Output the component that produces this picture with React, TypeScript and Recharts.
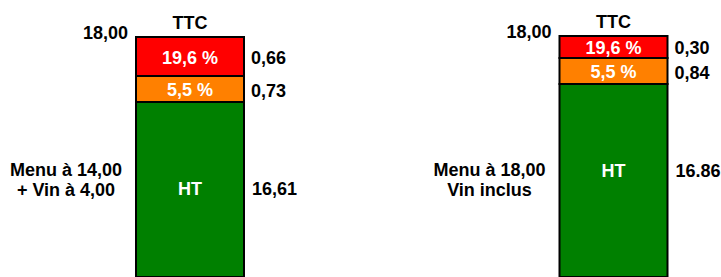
import { BarChart, Bar, XAxis, YAxis, LabelList } from 'recharts'

// the bars in the picture are not drawn to scale, so the segment heights
// below are the drawn heights and the printed amounts are kept apart
const categories = ['Menu à 14,00|+ Vin à 4,00', 'Menu à 18,00|Vin inclus']
const htDrawn = [175, 193]
const tva55Drawn = [26, 26]
const tva196Drawn = [39, 22]

const htValues = ['16,61', '16.86']
const tva55Values = ['0,73', '0,84']
const tva196Values = ['0,66', '0,30']
const ttcValues = ['18,00', '18,00']

const htName = 'HT'
const tva55Name = '5,5 %'
const tva196Name = '19,6 %'
const ttcName = 'TTC'

const data = categories.map((name, i) => ({
  name,
  ht: htDrawn[i],
  tva55: tva55Drawn[i],
  tva196: tva196Drawn[i],
}))

const FONT = '"Liberation Sans", Arial, sans-serif'
const FS = 18

type LP = { x?: number | string; y?: number | string; width?: number | string; height?: number | string; index?: number }

const num = (v: number | string | undefined) => Number(v ?? 0)

function sideLabel(values: string[], inner: string, dy = 0) {
  return (p: LP) => {
    const x = num(p.x), y = num(p.y), w = num(p.width), h = num(p.height)
    const i = p.index ?? 0
    return (
      <g fontFamily={FONT} fontWeight="bold" fontSize={FS}>
        <text x={x + w / 2} y={y + h / 2 + 1} textAnchor="middle" dominantBaseline="central" fill="#fff">
          {inner}
        </text>
        <text x={x + w + 7} y={y + h / 2 + dy} textAnchor="start" dominantBaseline="central" fill="#000">
          {values[i]}
        </text>
      </g>
    )
  }
}

function topLabel(p: LP) {
  const x = num(p.x), y = num(p.y), w = num(p.width), h = num(p.height)
  const i = p.index ?? 0
  return (
    <g fontFamily={FONT} fontWeight="bold" fontSize={FS}>
      <text x={x + w / 2} y={y + h / 2 + 1} textAnchor="middle" dominantBaseline="central" fill="#fff">
        {tva196Name}
      </text>
      <text x={x + w + 7} y={y + h / 2 + 1} textAnchor="start" dominantBaseline="central" fill="#000">
        {tva196Values[i]}
      </text>
      <text x={x - 8} y={y - 4} textAnchor="end" dominantBaseline="central" fill="#000">
        {ttcValues[i]}
      </text>
      <text x={x + w / 2} y={y - 14} textAnchor="middle" dominantBaseline="central" fill="#000">
        {ttcName}
      </text>
    </g>
  )
}

function htLabel(p: LP) {
  const x = num(p.x), y = num(p.y), w = num(p.width), h = num(p.height)
  const i = p.index ?? 0
  const bottom = y + h
  const lines = categories[i].split('|')
  return (
    <g fontFamily={FONT} fontWeight="bold" fontSize={FS}>
      <text x={x + w / 2} y={y + 87} textAnchor="middle" dominantBaseline="central" fill="#fff">
        {htName}
      </text>
      <text x={x + w + 8} y={y + 87} textAnchor="start" dominantBaseline="central" fill="#000">
        {htValues[i]}
      </text>
      {lines.map((l, k) => (
        <text key={k} x={x - 70} y={bottom - 107 + k * 20} textAnchor="middle" dominantBaseline="central" fill="#000">
          {l}
        </text>
      ))}
    </g>
  )
}

export default function App() {
  return (
    <div style={{ width: 721, height: 277, overflow: 'hidden', position: 'relative', background: '#fff' }}>
      <style>{'html,body{margin:0;padding:0}'}</style>
      <div style={{ position: 'absolute', left: -22, top: 0 }}>
        <BarChart width={847} height={277} data={data} margin={{ top: 0, right: 0, left: 0, bottom: 0 }}>
          <XAxis dataKey="name" hide />
          <YAxis hide domain={[0, 277]} allowDataOverflow />
          <Bar dataKey="ht" stackId="a" fill="#008000" stroke="#000" strokeWidth={2} barSize={108} isAnimationActive={false}>
            <LabelList dataKey="ht" content={htLabel} />
          </Bar>
          <Bar dataKey="tva55" stackId="a" fill="#FF8000" stroke="#000" strokeWidth={2} barSize={108} isAnimationActive={false}>
            <LabelList dataKey="tva55" content={sideLabel(tva55Values, tva55Name, 2)} />
          </Bar>
          <Bar dataKey="tva196" stackId="a" fill="#FF0000" stroke="#000" strokeWidth={2} barSize={108} isAnimationActive={false}>
            <LabelList dataKey="tva196" content={topLabel} />
          </Bar>
        </BarChart>
      </div>
    </div>
  )
}
